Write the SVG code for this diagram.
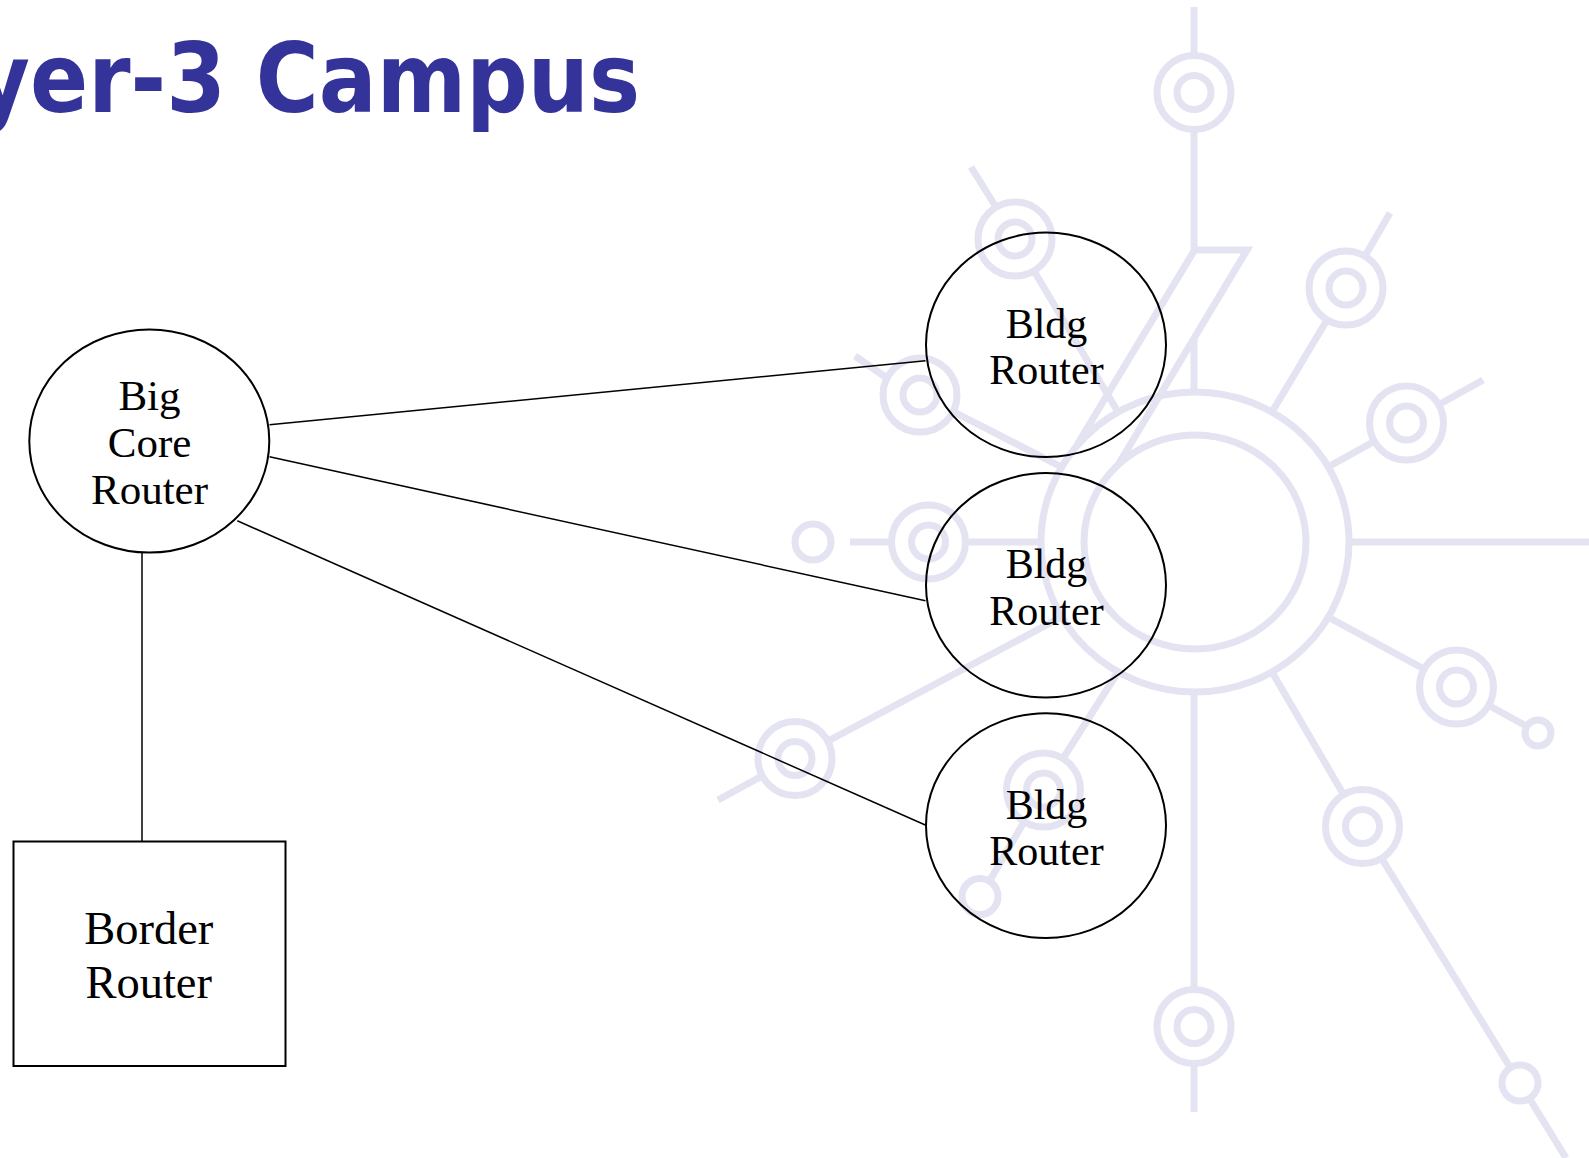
<svg xmlns="http://www.w3.org/2000/svg" xmlns:xlink="http://www.w3.org/1999/xlink" width="1589" height="1158" viewBox="0 0 1589 1158">
  <style>
    .bg { fill: none; stroke: #e3e3f2; stroke-width: 7; stroke-linecap: butt; }
    .title { font-family: "DejaVu Sans", Verdana, sans-serif; font-weight: bold; font-size: 97px; fill: #333399; }
    .shape { fill: none; stroke: #000; stroke-width: 2; }
    .link { fill: none; stroke: #000; stroke-width: 1.5; }
    .label { font-family: "Liberation Serif", "Times New Roman", serif; fill: #000; text-anchor: middle; }
  </style>
  <defs>
    <g id="hub">
      <circle r="37" class="bg"/>
      <circle r="17" class="bg"/>
    </g>
  </defs>

  <rect width="1589" height="1158" fill="#fff"/>

  <!-- faint network emblem behind the diagram -->
  <g id="emblem">
    <ellipse cx="1195" cy="542" rx="154" ry="150" class="bg"/>
    <ellipse cx="1195" cy="542" rx="111" ry="107" class="bg"/>
    <!-- top spoke with bolt -->
    <path class="bg" d="M1194 7 V55.5 M1194 129.5 V250 H1247 L1118 465 M1194 251 L1077 445 M1194 338 V392"/>
    <use xlink:href="#hub" x="1194" y="92.5"/>
    <!-- 60 deg -->
    <path class="bg" d="M1272 412 L1327 320 M1365 256 L1390 213"/>
    <use xlink:href="#hub" x="1346" y="288"/>
    <!-- 30 deg -->
    <path class="bg" d="M1328 467 L1374 441.5 M1439 404.5 L1483 380"/>
    <use xlink:href="#hub" x="1406.5" y="423"/>
    <!-- 0 deg -->
    <path class="bg" d="M1349 542 H1589"/>
    <!-- -30 deg -->
    <path class="bg" d="M1328 617 L1424 669 M1489 705.5 L1527 726.5"/>
    <use xlink:href="#hub" x="1456.5" y="687"/>
    <circle cx="1538" cy="733" r="13" class="bg"/>
    <!-- -60 deg -->
    <path class="bg" d="M1272 672 L1343.5 794.5 M1382 859 L1510.5 1068 M1529.5 1098.5 L1566 1158"/>
    <use xlink:href="#hub" x="1362.5" y="826.5"/>
    <circle cx="1520" cy="1083" r="18" class="bg"/>
    <!-- -90 deg -->
    <path class="bg" d="M1194 692 V989.5 M1194 1063.5 V1112"/>
    <use xlink:href="#hub" x="1194" y="1026.5"/>
    <!-- -120 deg -->
    <path class="bg" d="M1118 672 L1063 758.5 M1024 822 L989.5 881"/>
    <use xlink:href="#hub" x="1043.5" y="790"/>
    <circle cx="980" cy="896.5" r="18" class="bg"/>
    <!-- -150 deg -->
    <path class="bg" d="M1061.5 617 L828 741 M762 776 L718 800"/>
    <use xlink:href="#hub" x="795" y="758.5"/>
    <!-- 180 deg -->
    <path class="bg" d="M1041 542 H965.5 M891.5 542 H850"/>
    <use xlink:href="#hub" x="928.5" y="542"/>
    <circle cx="813" cy="542" r="18" class="bg"/>
    <!-- 150 deg -->
    <path class="bg" d="M1061.5 467 L953 411.5 M887 378 L855 356"/>
    <use xlink:href="#hub" x="920" y="395"/>
    <!-- 120 deg -->
    <path class="bg" d="M1118 412 L1034 271 M996 207 L971 167"/>
    <use xlink:href="#hub" x="1015" y="239"/>
  </g>

  <text class="title" x="-26" y="111.5" textLength="666" lengthAdjust="spacingAndGlyphs">yer-3 Campus</text>

  <g id="connectors">
    <line class="link" x1="269.5" y1="424.8" x2="925.5" y2="360.8"/>
    <line class="link" x1="269.5" y1="456.8" x2="925.5" y2="600.8"/>
    <line class="link" x1="237.3" y1="520.8" x2="925.3" y2="825"/>
    <line class="link" x1="142" y1="552.5" x2="142" y2="841.5"/>
  </g>

  <g id="core-router">
    <ellipse class="shape" cx="149.3" cy="441" rx="120" ry="111.6"/>
    <text class="label" font-size="43" x="149.5" y="410">Big</text>
    <text class="label" font-size="43" x="149.5" y="457.3">Core</text>
    <text class="label" font-size="43" x="149.5" y="504.3">Router</text>
  </g>

  <g id="border-router">
    <rect class="shape" x="13.5" y="841.5" width="272" height="224.5"/>
    <text class="label" font-size="46.5" x="148.7" y="944">Border</text>
    <text class="label" font-size="46.5" x="148.7" y="998.3">Router</text>
  </g>

  <g id="bldg-router-1">
    <ellipse class="shape" cx="1046" cy="344.8" rx="120" ry="112.2"/>
    <text class="label" font-size="42" x="1046.5" y="337.5">Bldg</text>
    <text class="label" font-size="42" x="1046.5" y="384.3">Router</text>
  </g>

  <g id="bldg-router-2">
    <ellipse class="shape" cx="1046" cy="585.3" rx="120" ry="112.2"/>
    <text class="label" font-size="42" x="1046.5" y="578.3">Bldg</text>
    <text class="label" font-size="42" x="1046.5" y="625">Router</text>
  </g>

  <g id="bldg-router-3">
    <ellipse class="shape" cx="1046" cy="825.6" rx="120" ry="112.4"/>
    <text class="label" font-size="42" x="1046.5" y="818.6">Bldg</text>
    <text class="label" font-size="42" x="1046.5" y="865.3">Router</text>
  </g>
</svg>
